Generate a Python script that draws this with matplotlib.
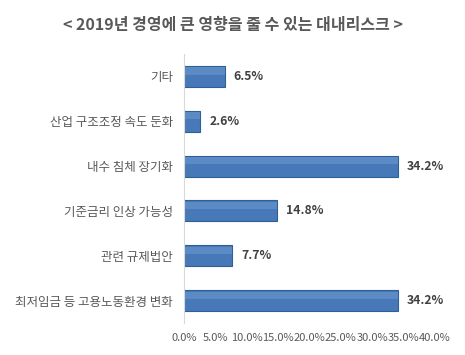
import numpy as np
import matplotlib.pyplot as plt

plt.rcParams['font.family'] = ['Noto Sans CJK KR', 'DejaVu Sans']

categories = ['기타', '산업 구조조정 속도 둔화', '내수 침체 장기화',
              '기준금리 인상 가능성', '관련 규제법안', '최저임금 등 고용노동환경 변화']
values = [6.5, 2.6, 34.2, 14.8, 7.7, 34.2]
xticks = [0, 5, 10, 15, 20, 25, 30, 35, 40]

fig = plt.figure(figsize=(4.65, 3.55), dpi=100)
ax = fig.add_axes((0.396, 0.090, 0.539, 0.758))

y = np.arange(len(categories))
ax.barh(y, values, height=0.47, color='#4779b8', edgecolor='#2f5f95',
        linewidth=0.8)
# soft highlight on top of each bar
ax.barh(y - 0.12, values, height=0.16, color='#6b97cf', linewidth=0,
        alpha=0.6)

for yi, v in zip(y, values):
    ax.text(v + 1.4, yi, '%.1f%%' % v, va='center', ha='left',
            fontsize=8.8, fontweight='bold', color='#404040')

ax.set_ylim(len(categories) - 0.5, -0.5)
ax.set_xlim(0, 40)
ax.set_yticks(y)
ax.set_yticklabels(categories, fontsize=9, color='#595959')
ax.set_xticks(xticks)
ax.set_xticklabels(['%.1f%%' % t for t in xticks], fontsize=8, color='#595959')
ax.tick_params(length=0)
ax.tick_params(axis='x', pad=7)
ax.tick_params(axis='y', pad=8)

for s in ['top', 'right', 'bottom']:
    ax.spines[s].set_visible(False)
ax.spines['left'].set_color('#d9d9d9')

fig.text(0.5, 0.93, '< 2019년 경영에 큰 영향을 줄 수 있는 대내리스크 >',
         ha='center', va='center', fontsize=11.5, fontweight='bold',
         color='#595959')

fig.savefig('out.png', dpi=100)
